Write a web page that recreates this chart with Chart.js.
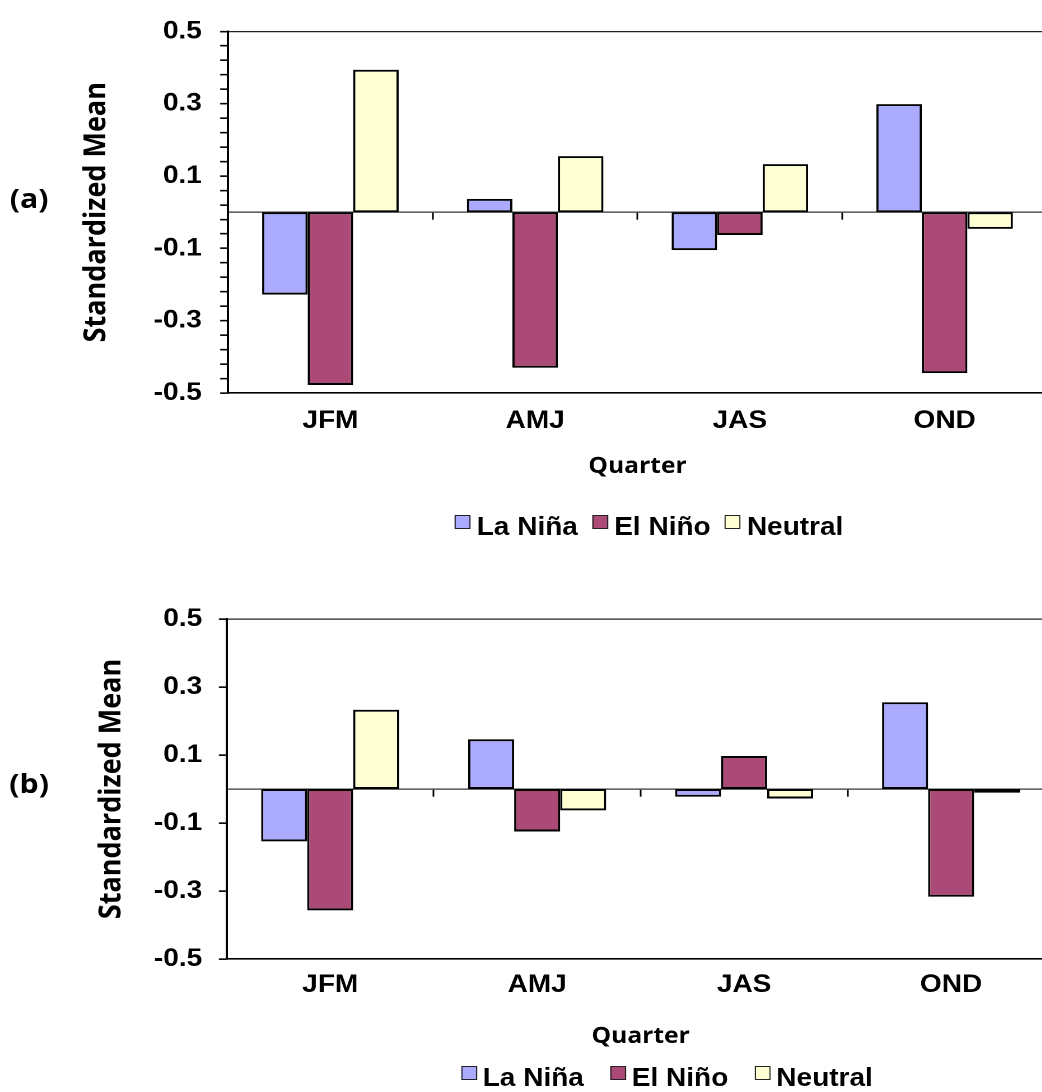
<!DOCTYPE html>
<html>
<head>
<meta charset="utf-8">
<script src="https://cdn.jsdelivr.net/npm/chart.js@4.4.1/dist/chart.umd.min.js"></script>
<style>
  html, body { margin: 0; padding: 0; background: #fff; overflow: hidden; }
  /* the whole figure is drawn a bit narrow and widened here */
  #page { position: absolute; left: 0; top: 0; width: 950px; height: 1092px; transform: scaleX(1.12); transform-origin: 0 0; }
  #page canvas { position: absolute; left: 0; }
  .panel-tag { position: absolute; left: 0; width: 52px; text-align: center; font: bold 27px 'Open Sans', sans-serif; line-height: 30px; color: #000; }
  .legend { position: absolute; display: flex; align-items: flex-start; font: bold 25px 'Liberation Sans', Arial, sans-serif; line-height: 25px; color: #000; white-space: nowrap; }
  .legend .item { display: flex; align-items: flex-start; }
  .legend .box { width: 12px; height: 12px; border: 1.3px solid #222; margin: 1px 5.4px 0 0; }
</style>
</head>
<body>
<div id="page">
  <div class="panel-tag" style="top:183px">(a)</div>
  <canvas id="chartA" width="940" height="495" style="top:0"></canvas>
  <div class="legend" id="legendA" style="left:406.3px; top:513.7px; gap:13px"></div>

  <div class="panel-tag" style="top:768px">(b)</div>
  <canvas id="chartB" width="947" height="470" style="top:589px"></canvas>
  <div class="legend" id="legendB" style="left:411.6px; top:1064.7px; gap:23.5px"></div>
</div>

<script>
const quarters = ['JFM', 'AMJ', 'JAS', 'OND'];
const seriesNames = ['La Niña', 'El Niño', 'Neutral'];
const seriesColors = ['#aaaaff', '#ab4a76', '#ffffd4'];
const yTickLabels = ['-0.5', '-0.3', '-0.1', '0.1', '0.3', '0.5'];

// panel (a)
const laNinaA = [-0.228, 0.037, -0.105, 0.299];
const elNinoA = [-0.478, -0.430, -0.063, -0.445];
const neutralA = [0.394, 0.155, 0.133, -0.046];

// panel (b)
const laNinaB = [-0.154, 0.146, -0.023, 0.255];
const elNinoB = [-0.357, -0.125, 0.097, -0.317];
const neutralB = [0.233, -0.063, -0.028, -0.011];

Chart.defaults.color = '#000';

const tickFont = { family: "'Liberation Sans', Arial, sans-serif", size: 25, weight: 'bold' };
const titleFont = { family: "'Open Sans', sans-serif", size: 22, weight: 'bold' };
const yTitleFont = { family: "'Open Sans', sans-serif", size: 27, weight: 'bold' };

function yLabel(value) {
    const lab = yTickLabels.find(t => Math.abs(parseFloat(t) - value) < 1e-6);
    return lab || '';
}

function makeChart(canvasId, values, lay) {
    const ctx = document.getElementById(canvasId).getContext('2d');
    return new Chart(ctx, {
        type: 'bar',
        data: {
            labels: quarters,
            datasets: values.map((v, i) => ({
                label: seriesNames[i],
                data: v,
                backgroundColor: seriesColors[i],
                borderColor: '#000',
                borderWidth: 2,
                borderSkipped: false,
                barPercentage: 1,
                categoryPercentage: 0.667
            }))
        },
        options: {
            responsive: false,
            animation: false,
            devicePixelRatio: 2,
            layout: {
                padding: { left: lay.padLeft, right: lay.padRight, top: 15, bottom: 0 }
            },
            plugins: {
                legend: { display: false },
                tooltip: { enabled: false }
            },
            scales: {
                x: {
                    grid: { display: true, drawTicks: false, drawOnChartArea: false, color: 'rgba(0,0,0,0)' },
                    border: { display: true, color: '#000', width: 1.6 },
                    ticks: { font: tickFont, padding: lay.labelPad, maxRotation: 0 },
                    title: { display: true, text: 'Quarter', font: titleFont, padding: { top: 0, bottom: lay.titlePad } },
                    afterFit: s => { s.height = lay.xHeight; }
                },
                // axis line crossing at zero, with the category tick marks
                xZero: {
                    axis: 'x',
                    type: 'category',
                    position: { y: 0 },
                    ticks: { display: false },
                    grid: { offset: true, drawOnChartArea: false, drawTicks: true, tickLength: 7, tickColor: '#000', tickWidth: 1.5, color: '#000' },
                    border: { display: true, color: '#333', width: 1.2 }
                },
                y: {
                    min: -0.5,
                    max: 0.5,
                    grid: {
                        drawOnChartArea: true,
                        drawTicks: true,
                        tickLength: 7,
                        tickColor: '#000',
                        tickWidth: 1.6,
                        lineWidth: 1.3,
                        color: c => (c.tick && Math.abs(c.tick.value - 0.5) < 1e-6) ? '#222' : 'rgba(0,0,0,0)'
                    },
                    border: { display: true, color: '#000', width: 2 },
                    ticks: { stepSize: lay.step, autoSkip: false, font: tickFont, padding: lay.yLabelPad, callback: yLabel },
                    title: { display: true, text: 'Standardized Mean', font: yTitleFont, padding: 0 },
                    afterFit: s => { s.width = lay.yWidth; }
                }
            }
        }
    });
}

function buildLegend(chart, el) {
    chart.data.datasets.forEach(ds => {
        const item = document.createElement('span');
        item.className = 'item';
        const box = document.createElement('span');
        box.className = 'box';
        box.style.background = ds.backgroundColor;
        const txt = document.createElement('span');
        txt.textContent = ds.label;
        item.append(box, txt);
        el.appendChild(item);
    });
}

const chartA = makeChart('chartA', [laNinaA, elNinoA, neutralA], {
    step: 0.04, padLeft: 70, padRight: 5.2, yWidth: 133.6, yLabelPad: 16.4,
    xHeight: 102, labelPad: 13, titlePad: 15
});
const chartB = makeChart('chartB', [laNinaB, elNinoB, neutralB], {
    step: 0.2, padLeft: 83.5, padRight: 5.4, yWidth: 118.9, yLabelPad: 14.9,
    xHeight: 100, labelPad: 11, titlePad: 9
});

buildLegend(chartA, document.getElementById('legendA'));
buildLegend(chartB, document.getElementById('legendB'));
</script>
</body>
</html>
